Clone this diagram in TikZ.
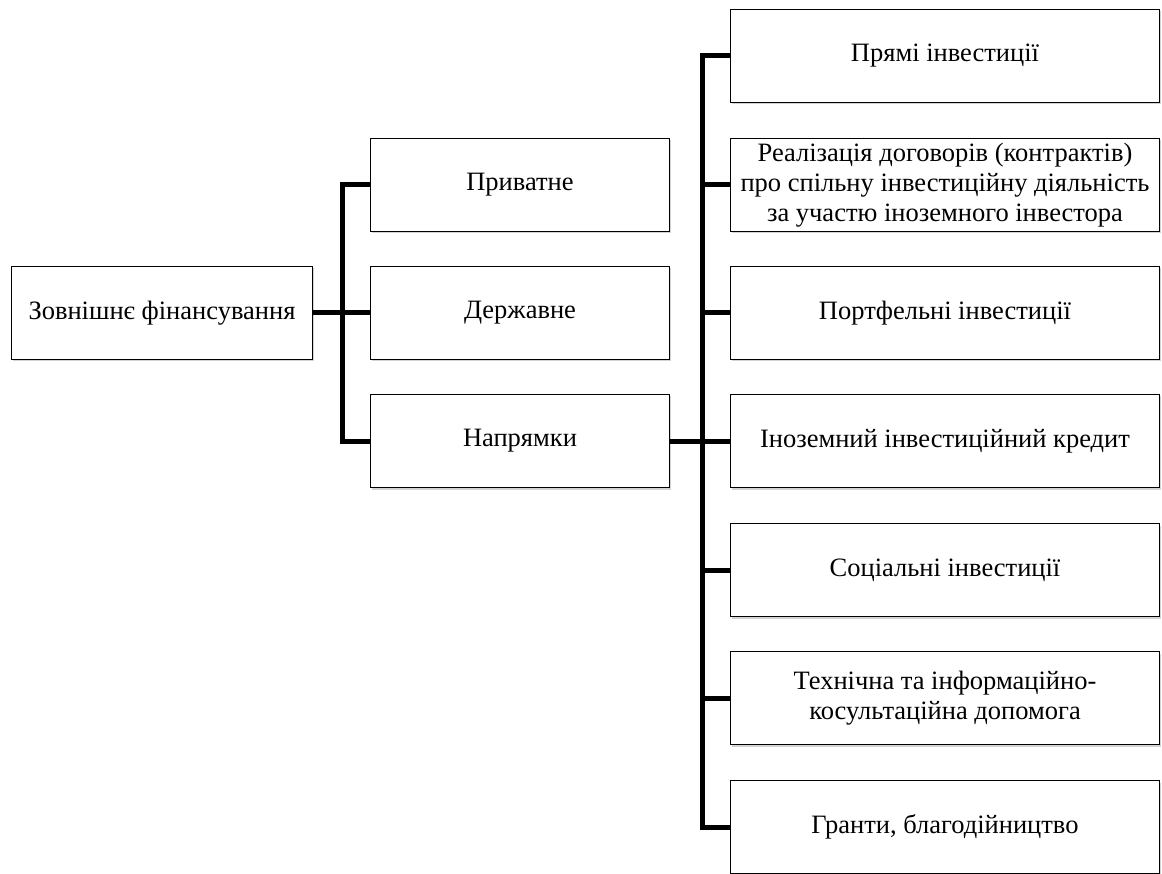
\documentclass[tikz,border=0pt]{standalone}
\usepackage{fontspec}
\setmainfont{Liberation Serif}
\usetikzlibrary{shadows}

\tikzset{
  box/.style={draw, line width=1.5pt, fill=white, minimum width=#1, minimum height=93pt,
    inner sep=2pt, align=center, font=\fontsize{26.5}{30}\selectfont,
    drop shadow={opacity=0.35, shadow xshift=1.5pt, shadow yshift=-2pt}},
  link/.style={line width=5pt, line join=miter}
}

\begin{document}
\begin{tikzpicture}[x=1pt, y=-1pt]
% Frame
\clip (0,0) rectangle (1162,874);
% Bars
\coordinate (lbar) at (342,0);
\coordinate (rbar) at (702,0);
% Root and first level
\node[box=301pt] (root) at (162,313) {Зовнішнє фінансування};
\node[box=299pt] (priv) at (520,185) {Приватне};
\node[box=299pt] (derzh) at (520,313) {Державне};
\node[box=299pt] (napr) at (520,441) {Напрямки};
% Second level
\node[box=429pt] (pryami) at (945,56) {Прямі інвестиції};
\node[box=429pt] (dohovory) at (945,185) {Реалізація договорів (контрактів)\\про спільну інвестиційну діяльність\\за участю іноземного інвестора};
\node[box=429pt] (portf) at (945,313) {Портфельні інвестиції};
\node[box=429pt] (kredyt) at (945,441) {Іноземний інвестиційний кредит};
\node[box=429pt] (social) at (945,570) {Соціальні інвестиції};
\node[box=429pt] (tekhn) at (945,698) {Технічна та інформаційно-\\косультаційна допомога};
\node[box=429pt] (hranty) at (945,827) {Гранти, благодійництво};
% Connectors, first level
\draw[link] (root.east) -- (root.east -| lbar);
\draw[link] (priv.west) -- (priv.west -| lbar) -- (napr.west -| lbar) -- (napr.west);
\draw[link] (derzh.west -| lbar) -- (derzh.west);
% Connectors, second level
\draw[link] (napr.east) -- (napr.east -| rbar);
\draw[link] (pryami.west) -- (pryami.west -| rbar) -- (hranty.west -| rbar) -- (hranty.west);
\foreach \n in {dohovory, portf, kredyt, social, tekhn}
  \draw[link] (\n.west -| rbar) -- (\n.west);
\end{tikzpicture}
\end{document}
